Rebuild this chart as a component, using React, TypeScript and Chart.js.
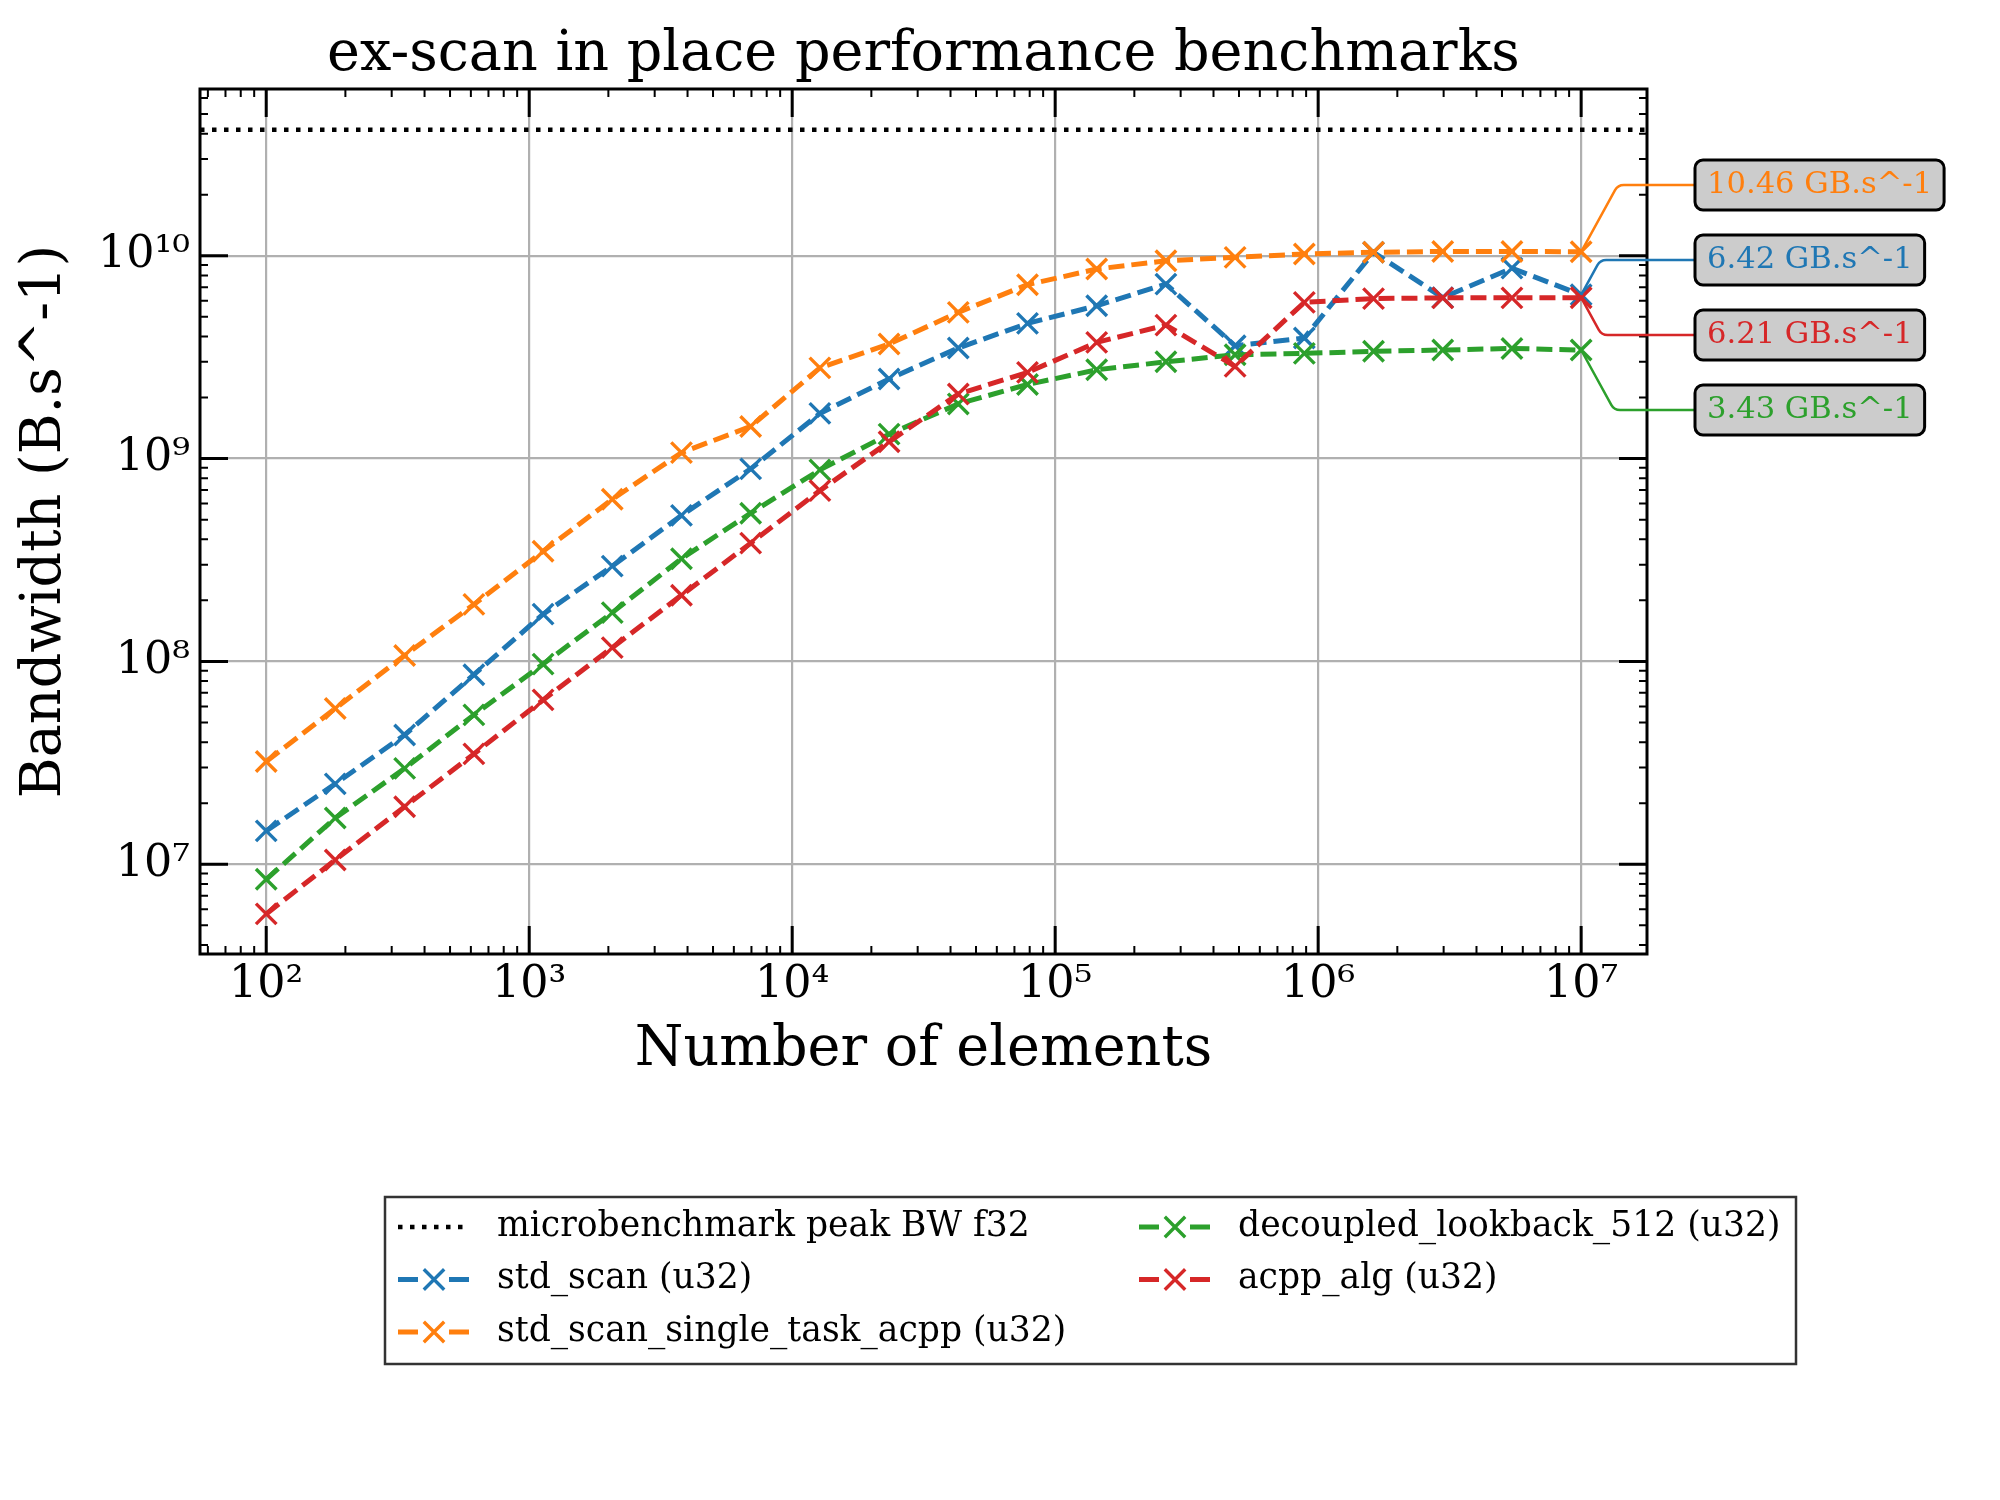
import { useEffect, useRef } from "react";
import { Chart, registerables } from "chart.js";

Chart.register(...registerables);

// number of elements (x)
const sizes = [
  100, 183, 336, 616, 1129, 2069, 3793, 6952, 12743, 23357, 42813, 78476, 143845, 263665, 483293,
  885867, 1623777, 2976351, 5455595, 10000000,
];

// bandwidth in B/s for each benchmark
const stdScan = [
  1.46e7, 2.49e7, 4.34e7, 8.6e7, 1.71e8, 2.95e8, 5.25e8, 8.9e8, 1.67e9, 2.47e9, 3.51e9, 4.64e9,
  5.67e9, 7.25e9, 3.6e9, 3.93e9, 1.04e10, 6.22e9, 8.69e9, 6.42e9,
];
const singleTask = [
  3.21e7, 5.86e7, 1.07e8, 1.91e8, 3.49e8, 6.3e8, 1.07e9, 1.44e9, 2.8e9, 3.67e9, 5.26e9, 7.2e9,
  8.6e9, 9.45e9, 9.82e9, 1.02e10, 1.04e10, 1.05e10, 1.05e10, 1.046e10,
];
const decoupled = [
  8.43e6, 1.69e7, 2.97e7, 5.45e7, 9.7e7, 1.74e8, 3.21e8, 5.38e8, 8.8e8, 1.32e9, 1.86e9, 2.32e9,
  2.74e9, 3.0e9, 3.25e9, 3.3e9, 3.38e9, 3.43e9, 3.49e9, 3.43e9,
];
const acppAlg = [
  5.69e6, 1.05e7, 1.92e7, 3.5e7, 6.46e7, 1.17e8, 2.12e8, 3.83e8, 6.95e8, 1.21e9, 2.08e9, 2.66e9,
  3.74e9, 4.55e9, 2.85e9, 5.89e9, 6.15e9, 6.2e9, 6.2e9, 6.21e9,
];

const PEAK_BW = 4.18e10;

const xTickValues = [1e2, 1e3, 1e4, 1e5, 1e6, 1e7];
const xTickLabels = ["10²", "10³", "10⁴", "10⁵", "10⁶", "10⁷"];
const yTickValues = [1e7, 1e8, 1e9, 1e10];
const yTickLabels = ["10⁷", "10⁸", "10⁹", "10¹⁰"];

const X_MIN = 56;
const X_MAX = 1.78e7;
const Y_MIN = 3.61e6;
const Y_MAX = 6.64e10;

const series = [
  { label: "std_scan (u32)", values: stdScan, color: "#1f77b4" },
  { label: "std_scan_single_task_acpp (u32)", values: singleTask, color: "#ff7f0e" },
  { label: "decoupled_lookback_512 (u32)", values: decoupled, color: "#2ca02c" },
  { label: "acpp_alg (u32)", values: acppAlg, color: "#d62728" },
];
const PEAK_LABEL = "microbenchmark peak BW f32";

const SERIF = "'DejaVu Serif', serif";
const LINE_W = 5;
const LINE_DASH = [16, 7];
const DOT_DASH = [4.5, 7.5];

const drawCross = (ctx: CanvasRenderingContext2D, x: number, y: number, color: string) => {
  const h = 10.2;
  ctx.save();
  ctx.strokeStyle = color;
  ctx.lineWidth = 3.4;
  ctx.setLineDash([]);
  ctx.beginPath();
  ctx.moveTo(x - h, y - h);
  ctx.lineTo(x + h, y + h);
  ctx.moveTo(x - h, y + h);
  ctx.lineTo(x + h, y - h);
  ctx.stroke();
  ctx.restore();
};

// matplotlib-like frame, inward ticks, title, value labels and legend
const decorPlugin = {
  id: "decor",
  afterDraw(chart: any) {
    const { ctx, chartArea: a, scales } = chart;
    ctx.save();

    const drawTicks = (scale: any, horizontal: boolean) => {
      const lo = Math.floor(Math.log10(scale.min));
      const hi = Math.ceil(Math.log10(scale.max));
      ctx.strokeStyle = "#000";
      for (let e = lo; e <= hi; e++) {
        for (let m = 1; m <= 9; m++) {
          const v = m * Math.pow(10, e);
          if (v < scale.min || v > scale.max) continue;
          const p = scale.getPixelForValue(v);
          const len = m === 1 ? 28 : 8;
          ctx.lineWidth = m === 1 ? 3 : 2;
          ctx.beginPath();
          if (horizontal) {
            ctx.moveTo(p, a.bottom);
            ctx.lineTo(p, a.bottom - len);
            ctx.moveTo(p, a.top);
            ctx.lineTo(p, a.top + len);
          } else {
            ctx.moveTo(a.left, p);
            ctx.lineTo(a.left + len, p);
            ctx.moveTo(a.right, p);
            ctx.lineTo(a.right - len, p);
          }
          ctx.stroke();
        }
      }
    };
    drawTicks(scales.x, true);
    drawTicks(scales.y, false);

    ctx.strokeStyle = "#000";
    ctx.lineWidth = 3;
    ctx.strokeRect(a.left, a.top, a.right - a.left, a.bottom - a.top);

    // title
    ctx.fillStyle = "#000";
    ctx.font = `55.6px ${SERIF}`;
    ctx.textAlign = "center";
    ctx.textBaseline = "alphabetic";
    ctx.fillText("ex-scan in place performance benchmarks", (a.left + a.right) / 2, 70);

    // final value labels, sorted by value
    const last = series
      .map((s, i) => ({ s, meta: chart.getDatasetMeta(i + 1), v: s.values[s.values.length - 1] }))
      .sort((p, q) => q.v - p.v);
    const boxLeft = 1695;
    ctx.font = `30.6px ${SERIF}`;
    last.forEach((item, rank) => {
      const pt = item.meta.data[item.meta.data.length - 1];
      const ly = 185 + rank * 75;
      const bend = pt.x + Math.abs(ly - pt.y) * 0.55;
      ctx.strokeStyle = item.s.color;
      ctx.lineWidth = 2.5;
      ctx.beginPath();
      ctx.moveTo(pt.x, pt.y);
      ctx.arcTo(bend, ly, boxLeft, ly, 10);
      ctx.lineTo(boxLeft, ly);
      ctx.stroke();

      const text = `${(item.v / 1e9).toFixed(2)} GB.s^-1`;
      const w = ctx.measureText(text).width + 24;
      ctx.beginPath();
      ctx.roundRect(boxLeft, ly - 25, w, 50, 8);
      ctx.fillStyle = "#cccccc";
      ctx.fill();
      ctx.strokeStyle = "#000";
      ctx.lineWidth = 3;
      ctx.stroke();
      ctx.fillStyle = item.s.color;
      ctx.textAlign = "left";
      ctx.textBaseline = "middle";
      ctx.fillText(text, boxLeft + 12, ly);
    });

    // legend
    ctx.fillStyle = "#fff";
    ctx.fillRect(385, 1197, 1411, 167);
    ctx.strokeStyle = "#333";
    ctx.lineWidth = 2.5;
    ctx.strokeRect(385, 1197, 1411, 167);
    const entries = [
      { label: PEAK_LABEL, color: "#000", dash: DOT_DASH, lw: 4.5, marker: false },
      ...series.map((s) => ({ label: s.label, color: s.color, dash: [20, 31], lw: LINE_W, marker: true })),
    ];
    const cols = [
      { hx: 398, tx: 497 },
      { hx: 1139, tx: 1238 },
    ];
    ctx.font = `34.6px ${SERIF}`;
    ctx.textAlign = "left";
    ctx.textBaseline = "middle";
    entries.forEach((en, i) => {
      const col = cols[i < 3 ? 0 : 1];
      const row = i < 3 ? i : i - 3;
      const yy = 1227 + row * 52.5;
      ctx.save();
      ctx.strokeStyle = en.color;
      ctx.lineWidth = en.lw;
      ctx.setLineDash(en.dash);
      ctx.beginPath();
      ctx.moveTo(col.hx, yy);
      ctx.lineTo(col.hx + 72, yy);
      ctx.stroke();
      ctx.restore();
      if (en.marker) drawCross(ctx, col.hx + 36, yy, en.color);
      ctx.fillStyle = "#000";
      ctx.fillText(en.label, col.tx, yy);
    });

    ctx.restore();
  },
};

export default function App() {
  const canvasRef = useRef<HTMLCanvasElement>(null);

  useEffect(() => {
    if (!canvasRef.current) return;

    const datasets: any[] = [
      {
        label: PEAK_LABEL,
        data: [
          { x: X_MIN, y: PEAK_BW },
          { x: X_MAX, y: PEAK_BW },
        ],
        borderColor: "#000",
        borderWidth: 4.5,
        borderDash: DOT_DASH,
        pointRadius: 0,
        order: 10,
      },
      ...series.map((s, i) => ({
        label: s.label,
        data: sizes.map((n, k) => ({ x: n, y: s.values[k] })),
        borderColor: s.color,
        backgroundColor: s.color,
        borderWidth: LINE_W,
        borderDash: LINE_DASH,
        pointStyle: "crossRot",
        pointRadius: 14.5,
        pointBorderWidth: 3.4,
        pointBorderColor: s.color,
        tension: 0,
        order: 4 - i,
      })),
    ];

    const chart = new Chart(canvasRef.current, {
      type: "line",
      data: { datasets },
      options: {
        animation: false,
        responsive: false,
        devicePixelRatio: 1,
        events: [],
        layout: { padding: { left: 0, top: 89, right: 353, bottom: 416 } },
        plugins: {
          legend: { display: false },
          tooltip: { enabled: false },
          title: { display: false },
        },
        scales: {
          x: {
            type: "logarithmic",
            min: X_MIN,
            max: X_MAX,
            bounds: "data",
            border: { display: false },
            grid: { color: "#b0b0b0", lineWidth: 2.2, drawTicks: false },
            afterBuildTicks: (scale: any) => {
              scale.ticks = xTickValues.map((v) => ({ value: v }));
            },
            afterFit: (scale: any) => {
              scale.height = 130;
            },
            ticks: {
              autoSkip: false,
              maxRotation: 0,
              padding: 5,
              color: "#000",
              font: { family: SERIF, size: 44.4 },
              callback: (v: any) => xTickLabels[xTickValues.indexOf(Number(v))] ?? "",
            },
            title: {
              display: true,
              text: "Number of elements",
              color: "#000",
              font: { family: SERIF, size: 55.6 },
              padding: 0,
            },
          },
          y: {
            type: "logarithmic",
            min: Y_MIN,
            max: Y_MAX,
            bounds: "data",
            border: { display: false },
            grid: { color: "#b0b0b0", lineWidth: 2.2, drawTicks: false },
            afterBuildTicks: (scale: any) => {
              scale.ticks = yTickValues.map((v) => ({ value: v }));
            },
            afterFit: (scale: any) => {
              scale.width = 200;
            },
            ticks: {
              autoSkip: false,
              padding: 10,
              color: "#000",
              font: { family: SERIF, size: 44.4 },
              callback: (v: any) => yTickLabels[yTickValues.indexOf(Number(v))] ?? "",
            },
            title: {
              display: true,
              text: "Bandwidth (B.s^-1)",
              color: "#000",
              font: { family: SERIF, size: 55.6 },
              padding: { top: 12, bottom: 0 },
            },
          },
        },
      },
      plugins: [decorPlugin],
    } as any);

    return () => chart.destroy();
  }, []);

  return (
    <div style={{ position: "absolute", left: 0, top: 0, width: 2000, height: 1500, background: "#fff" }}>
      <canvas ref={canvasRef} width={2000} height={1500} style={{ display: "block" }} />
    </div>
  );
}
